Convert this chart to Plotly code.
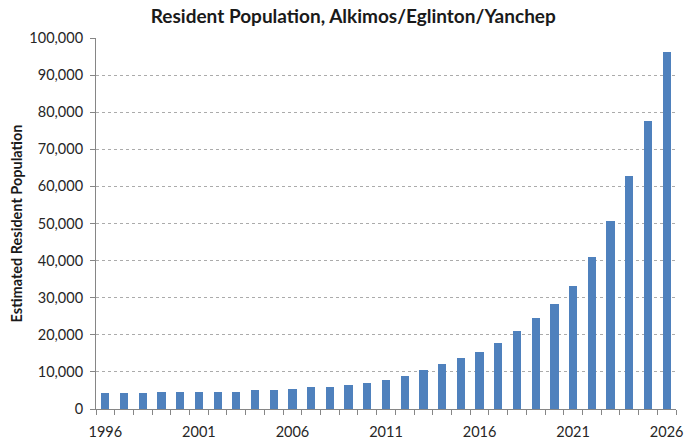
import plotly.graph_objects as go

# Estimated resident population by year
years = list(range(1996, 2027))
population = [
    4400, 4400, 4400, 4500, 4700, 4600, 4600, 4700, 5000, 5200,
    5300, 5800, 6000, 6500, 7100, 7700, 8900, 10500, 12100, 13700,
    15300, 17900, 20900, 24400, 28400, 33100, 41000, 50700, 62800, 77700,
    96200,
]
label_years = [1996, 2001, 2006, 2011, 2016, 2021, 2026]
y_ticks = list(range(0, 100001, 10000))

font_family = "Lato, 'Open Sans', sans-serif"
axis_grey = "#868686"

fig = go.Figure()
fig.add_trace(go.Bar(
    x=years,
    y=population,
    width=0.44,
    marker=dict(color="#4F81BD", line=dict(width=0)),
    hoverinfo="x+y",
))
# invisible trace so the labelled axis is drawn
fig.add_trace(go.Scatter(x=[years[0], years[-1]], y=[0, 0], xaxis="x2",
                         mode="markers", marker=dict(opacity=0),
                         hoverinfo="skip", showlegend=False))

x_range = [years[0] - 0.5, years[-1] + 0.5]

fig.update_layout(
    width=686, height=439,
    margin=dict(l=96, r=10, t=38, b=30),
    paper_bgcolor="white", plot_bgcolor="white",
    showlegend=False,
    font=dict(family=font_family, size=14.5, color="#262626"),
    title=dict(
        text="<b>Resident Population, Alkimos/Eglinton/Yanchep</b>",
        x=0.515, xanchor="center", y=0.962, yanchor="middle",
        font=dict(size=19, color="#1a1a1a"),
    ),
    xaxis=dict(
        range=x_range,
        tickmode="linear", tick0=years[0] - 0.5, dtick=1,
        showticklabels=False,
        ticks="outside", ticklen=5, tickcolor=axis_grey, tickwidth=1,
        showline=True, linecolor=axis_grey, linewidth=1,
        showgrid=False, zeroline=False, automargin=False,
    ),
    xaxis2=dict(
        overlaying="x", matches="x", side="bottom",
        range=x_range,
        tickmode="array", tickvals=label_years,
        ticktext=[str(y) for y in label_years],
        ticks="", showline=False, showgrid=False, zeroline=False,
        ticklabelstandoff=12, automargin=False,
        tickfont=dict(size=14.5, color="#262626"),
    ),
    yaxis=dict(
        range=[0, 100000],
        tickmode="array", tickvals=y_ticks,
        ticktext=[f"{v:,}" for v in y_ticks],
        ticks="outside", ticklen=5, tickcolor=axis_grey,
        ticklabelstandoff=4, automargin=False,
        showline=True, linecolor=axis_grey, linewidth=1,
        showgrid=True, gridcolor="#ABABAB", griddash="dot", gridwidth=1,
        zeroline=False,
        title=dict(text="<b>Estimated Resident Population</b>",
                   font=dict(size=14.5, color="#1a1a1a"), standoff=3),
        tickfont=dict(size=14.5, color="#262626"),
    ),
    bargap=0,
)

fig.write_html("out.html")
